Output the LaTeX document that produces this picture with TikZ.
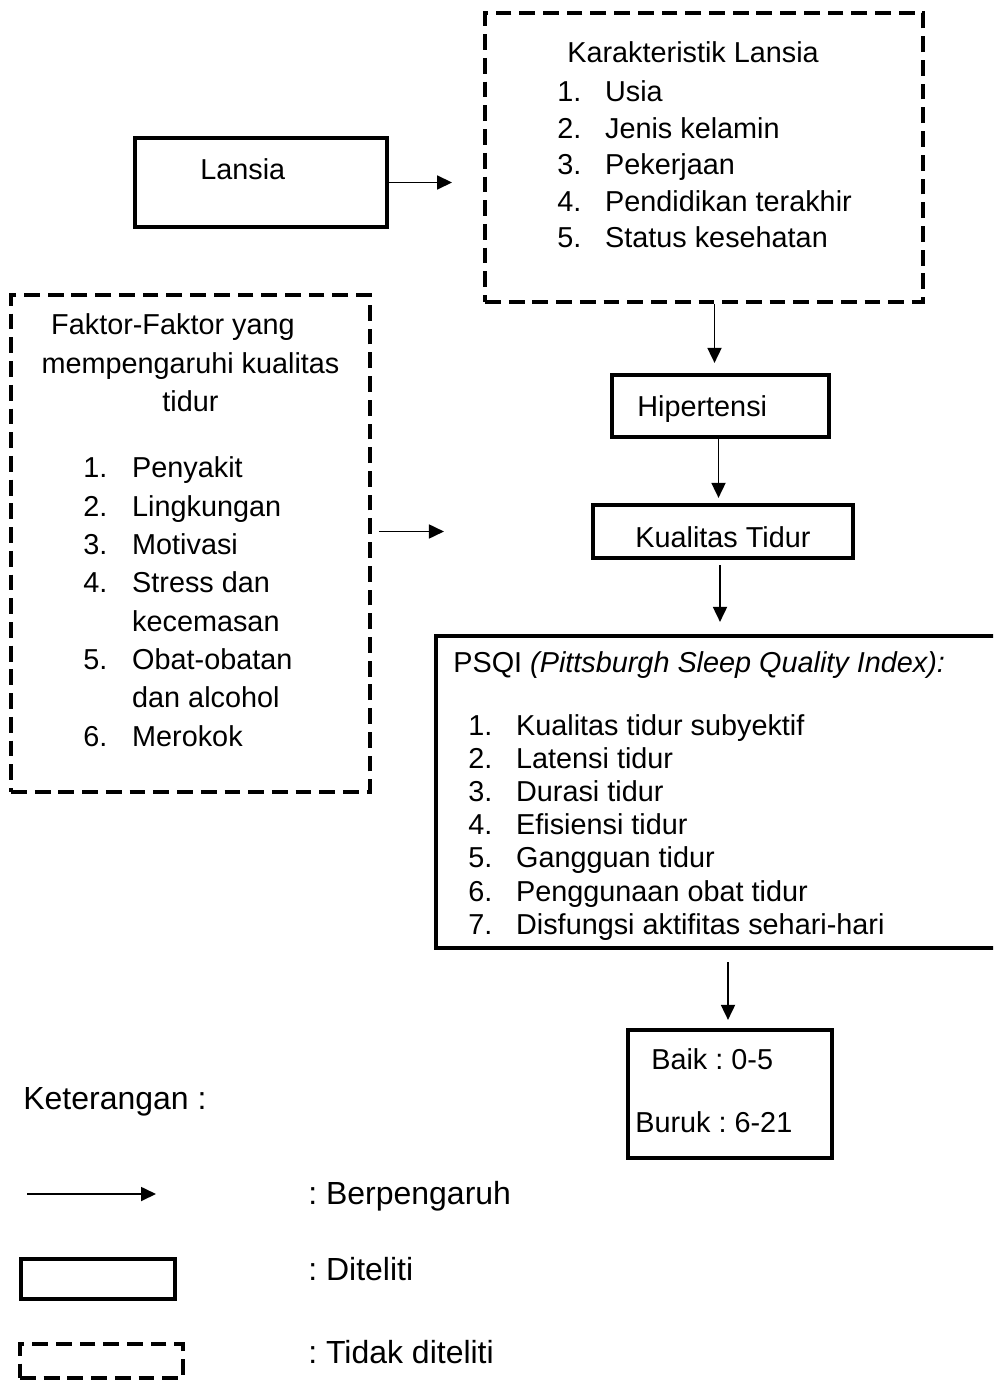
\documentclass[tikz,border=0pt]{standalone}
\usepackage{fontspec}
\setmainfont{Liberation Sans}
\usepackage{tikz}
\usetikzlibrary{calc}
\usetikzlibrary{arrows.meta}
\usetikzlibrary{positioning}
\frenchspacing
\tikzset{box/.style={draw, line width=2.4pt, inner sep=0pt}}
\tikzset{dbox/.style={draw, line width=2.3pt, dash pattern=on 9pt off 4.5pt, inner sep=0pt}}
\tikzset{txt/.style={inner sep=0pt, anchor=base west}}
\tikzset{flow/.style={line width=1pt, -{Triangle[length=3mm,width=2.8mm]}}}
\newcommand{\fisi}{\fontsize{16.4}{20.75}\selectfont}
\newcommand{\ffak}{\fontsize{16.4}{21.8}\selectfont}
\newcommand{\fpsqi}{\fontsize{16.4}{18.9}\selectfont}
\newcommand{\fket}{\fontsize{18.2}{22}\selectfont}

\begin{document}
\begin{tikzpicture}[x=0.02cm, y=-0.02cm]
\useasboundingbox (0,0) rectangle (993,1381);
\clip (0,0) rectangle (993,1381);

\node[box, minimum width=5.04cm, minimum height=1.78cm] (lansia) at (261,182.5) {};
\node[dbox, minimum width=8.76cm, minimum height=5.78cm] (karak) at (704,157.5) {};
\node[dbox, minimum width=7.18cm, minimum height=9.94cm] (faktor) at (190.5,543.5) {};
\node[box, minimum width=4.34cm, minimum height=1.24cm] (hip) at (720.5,406) {};
\node[box, minimum width=5.2cm, minimum height=1.06cm] (kual) at (723,531.5) {};
\node[box, minimum width=11.54cm, minimum height=6.24cm] (psqi) at (724.5,792) {};
\node[box, minimum width=4.08cm, minimum height=2.56cm] (baik) at (730,1094) {};

\node[txt, font=\fisi] at (200,180) {Lansia};
\node[txt, font=\fisi] at (567,63) {Karakteristik Lansia};
\node[txt, font=\fisi] at (557,102) {\begin{tabular}[t]{@{}p{27.2pt}@{}l@{}}
1. & Usia\\
2. & Jenis kelamin\\
3. & Pekerjaan\\
4. & Pendidikan terakhir\\
5. & Status kesehatan
\end{tabular}};

\node[inner sep=0pt, anchor=base, font=\ffak] at (190.5,335) {\begin{tabular}[t]{@{}c@{}}
Faktor-Faktor yang\hspace*{20pt}\\
mempengaruhi kualitas\\
tidur
\end{tabular}};
\node[txt, font=\ffak] at (83,478) {\begin{tabular}[t]{@{}p{27.8pt}@{}l@{}}
1. & Penyakit\\
2. & Lingkungan\\
3. & Motivasi\\
4. & Stress dan\\
   & kecemasan\\
5. & Obat-obatan\\
   & dan alcohol\\
6. & Merokok
\end{tabular}};

\node[txt, font=\fisi] at (637,417) {Hipertensi};
\node[txt, font=\fisi] at (635,547) {Kualitas Tidur};

\node[txt, font=\fpsqi] at (453,672) {PSQI \textit{(Pittsburgh Sleep Quality Index):}};
\begin{scope}
\clip (440,645) rectangle (990,940);
\node[txt, font=\fpsqi] at (468,735) {\begin{tabular}[t]{@{}p{27.2pt}@{}l@{}}
1. & Kualitas tidur subyektif\\
2. & Latensi tidur\\
3. & Durasi tidur\\
4. & Efisiensi tidur\\
5. & Gangguan tidur\\
6. & Penggunaan obat tidur\\
7. & Disfungsi aktifitas sehari-hari
\end{tabular}};
\end{scope}

\node[txt, font=\fisi] at (651,1069) {Baik : 0-5};
\node[txt, font=\fisi] at (635,1132) {Buruk : 6-21};

\draw[flow, shorten >=0.62cm] (lansia.east) -- (lansia.east -| karak.west);
\draw[flow, shorten >=0.2cm] ($(karak.south -| hip.north)+(-6,0)$) -- ($(hip.north)+(-6,0)$);
\draw[flow, shorten >=0.1cm] ($(hip.south)+(-2,0)$) -- ($(kual.north -| hip.south)+(-2,0)$);
\draw[flow, shorten <=0.14cm, shorten >=2.94cm] (faktor.east |- kual.west) -- (kual.west);
\draw[flow, shorten <=0.1cm, shorten >=0.24cm] ($(kual.south)+(-3,0)$) -- ($(kual.south |- psqi.north)+(-3,0)$);
\draw[flow, shorten <=0.24cm, shorten >=0.16cm] ($(baik.north |- psqi.south)+(-2,0)$) -- ($(baik.north)+(-2,0)$);

% keterangan
\node[txt, font=\fket] (ket) at (23,1109) {Keterangan :};
\coordinate (legA) at (27,1194);
\coordinate (legB) at (156,1194);
\draw[flow] (legA) -- (legB);
\node[box, minimum width=3.08cm, minimum height=0.8cm] (legbox) at (98,1279) {};
\node[dbox, minimum width=3.26cm, minimum height=0.68cm] (legdbox) at (101.5,1361) {};
\node[txt, font=\fket] at (308,1204) {: Berpengaruh};
\node[txt, font=\fket] at (308,1280) {: Diteliti};
\node[txt, font=\fket] at (308,1363) {: Tidak diteliti};
\end{tikzpicture}
\end{document}
